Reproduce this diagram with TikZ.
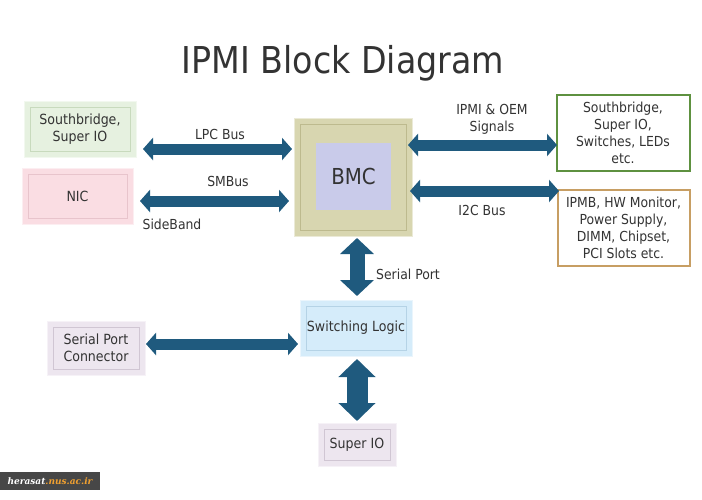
\documentclass[tikz,border=0pt]{standalone}
\usepackage{fontspec}
\setmainfont{DejaVu Sans Condensed}
\newfontfamily\wmfont{DejaVu Serif}
\usetikzlibrary{arrows.meta}
\definecolor{txt}{HTML}{333333}
\definecolor{arr}{HTML}{1F5A7E}
\definecolor{sbfill}{HTML}{E6F1E0}
\definecolor{sbline}{HTML}{C8DABD}
\definecolor{nicfill}{HTML}{FADDE3}
\definecolor{nicline}{HTML}{E8C4CC}
\definecolor{bmcfill}{HTML}{D8D6B0}
\definecolor{bmcline}{HTML}{BDBA8E}
\definecolor{bmcin}{HTML}{C9CBEA}
\definecolor{swfill}{HTML}{D5ECFA}
\definecolor{swline}{HTML}{B5D3E6}
\definecolor{lavfill}{HTML}{EDE6EF}
\definecolor{lavline}{HTML}{D0C6D3}
\definecolor{gline}{HTML}{5E9140}
\definecolor{bline}{HTML}{C79E63}
\tikzset{
  x=1pt, y=-1pt,
  bevel/.style 2 args={draw=#1!50!white, fill=#1, line width=0.8pt, text=txt,
    align=center, font=\fontsize{14}{17.5}\selectfont, inner sep=0pt,
    path picture={\draw[#2, line width=0.9pt]
      ([shift={(6pt,-6pt)}]path picture bounding box.north west) rectangle
      ([shift={(-6pt,6pt)}]path picture bounding box.south east);}},
  outbox/.style={draw=#1, line width=2pt, fill=white, text=txt, align=center,
    font=\fontsize{13.8}{17}\selectfont, inner sep=0pt},
  harrow/.style={draw=arr, line width=11pt,
    {Triangle[length=10pt,width=22pt]}-{Triangle[length=10pt,width=22pt]}},
  varrowA/.style={draw=arr, line width=15pt,
    {Triangle[length=16pt,width=33pt]}-{Triangle[length=16pt,width=33pt]}},
  varrowB/.style={draw=arr, line width=21pt,
    {Triangle[length=18pt,width=36pt]}-{Triangle[length=18pt,width=36pt]}},
  lbl/.style={text=txt, font=\fontsize{13.8}{17}\selectfont, align=center, inner sep=0pt}
}
\begin{document}
\begin{tikzpicture}
\useasboundingbox (0,0) rectangle (702,499);
\fill[white] (0,0) rectangle (702,499);

% title
\node[text=txt, font=\fontsize{37}{42}\selectfont] (title) at (343,63) {IPMI Block Diagram};

% boxes
\node[bevel={sbfill}{sbline}, minimum width=112pt, minimum height=56pt] (sb) at (80,129) {Southbridge,\\Super IO};
\node[bevel={nicfill}{nicline}, minimum width=111pt, minimum height=56pt] (nic) at (77.5,196) {NIC};
\node[bevel={bmcfill}{bmcline}, minimum width=118pt, minimum height=118pt] (bmc) at (353,177) {};
\node[fill=bmcin, minimum width=75pt, minimum height=67pt, text=txt,
      font=\fontsize{22}{25}\selectfont, inner sep=0pt] (bmcin) at (353.5,176.5) {BMC};
\node[outbox=gline, minimum width=133pt, minimum height=76pt] (gbox) at (623,132.5)
  {Southbridge,\\Super IO,\\Switches, LEDs\\etc.};
\node[outbox=bline, minimum width=132pt, minimum height=76pt] (bbox) at (623.5,227.5)
  {IPMB, HW Monitor,\\Power Supply,\\DIMM, Chipset,\\PCI Slots etc.};
\node[bevel={swfill}{swline}, minimum width=112pt, minimum height=56pt] (sw) at (356,328) {Switching Logic};
\node[bevel={lavfill}{lavline}, minimum width=98pt, minimum height=54pt] (spc) at (96,348) {Serial Port\\Connector};
\node[bevel={lavfill}{lavline}, minimum width=78pt, minimum height=43pt] (sio) at (357,444.5) {Super IO};

% arrow end points
\coordinate (lpcA) at (143,149); \coordinate (lpcB) at (292,149);
\coordinate (smA) at (140,201);  \coordinate (smB) at (289,201);
\coordinate (ipA) at (408,145);  \coordinate (ipB) at (557,145);
\coordinate (i2A) at (410,191);  \coordinate (i2B) at (559,191);
\coordinate (scA) at (146,344);  \coordinate (scB) at (298,344);
\coordinate (spA) at (357,238);  \coordinate (spB) at (357,296);
\coordinate (ssA) at (357,359);  \coordinate (ssB) at (357,421);

\draw[harrow] (lpcA) -- (lpcB);
\draw[harrow] (smA) -- (smB);
\draw[harrow] (ipA) -- (ipB);
\draw[harrow] (i2A) -- (i2B);
\draw[harrow] (scA) -- (scB);
\draw[varrowA] (spA) -- (spB);
\draw[varrowB] (ssA) -- (ssB);

% labels
\node[lbl] (l1) at (220,134) {LPC Bus};
\node[lbl] (l2) at (228,181) {SMBus};
\node[lbl] (l3) at (172,224) {SideBand};
\node[lbl] (l4) at (492,119.5) {IPMI \& OEM\\Signals};
\node[lbl] (l5) at (482,210) {I2C Bus};
\node[lbl] (l6) at (408,274) {Serial Port};

% watermark
\fill[black!72] (0,472) rectangle (100,490);
\node[inner sep=0pt, font=\wmfont\bfseries\itshape\fontsize{9}{10}\selectfont] (wm) at (50,481)
  {\textcolor{white}{herasat}\textcolor[HTML]{F0A030}{.nus.ac.ir}};
\end{tikzpicture}
\end{document}
